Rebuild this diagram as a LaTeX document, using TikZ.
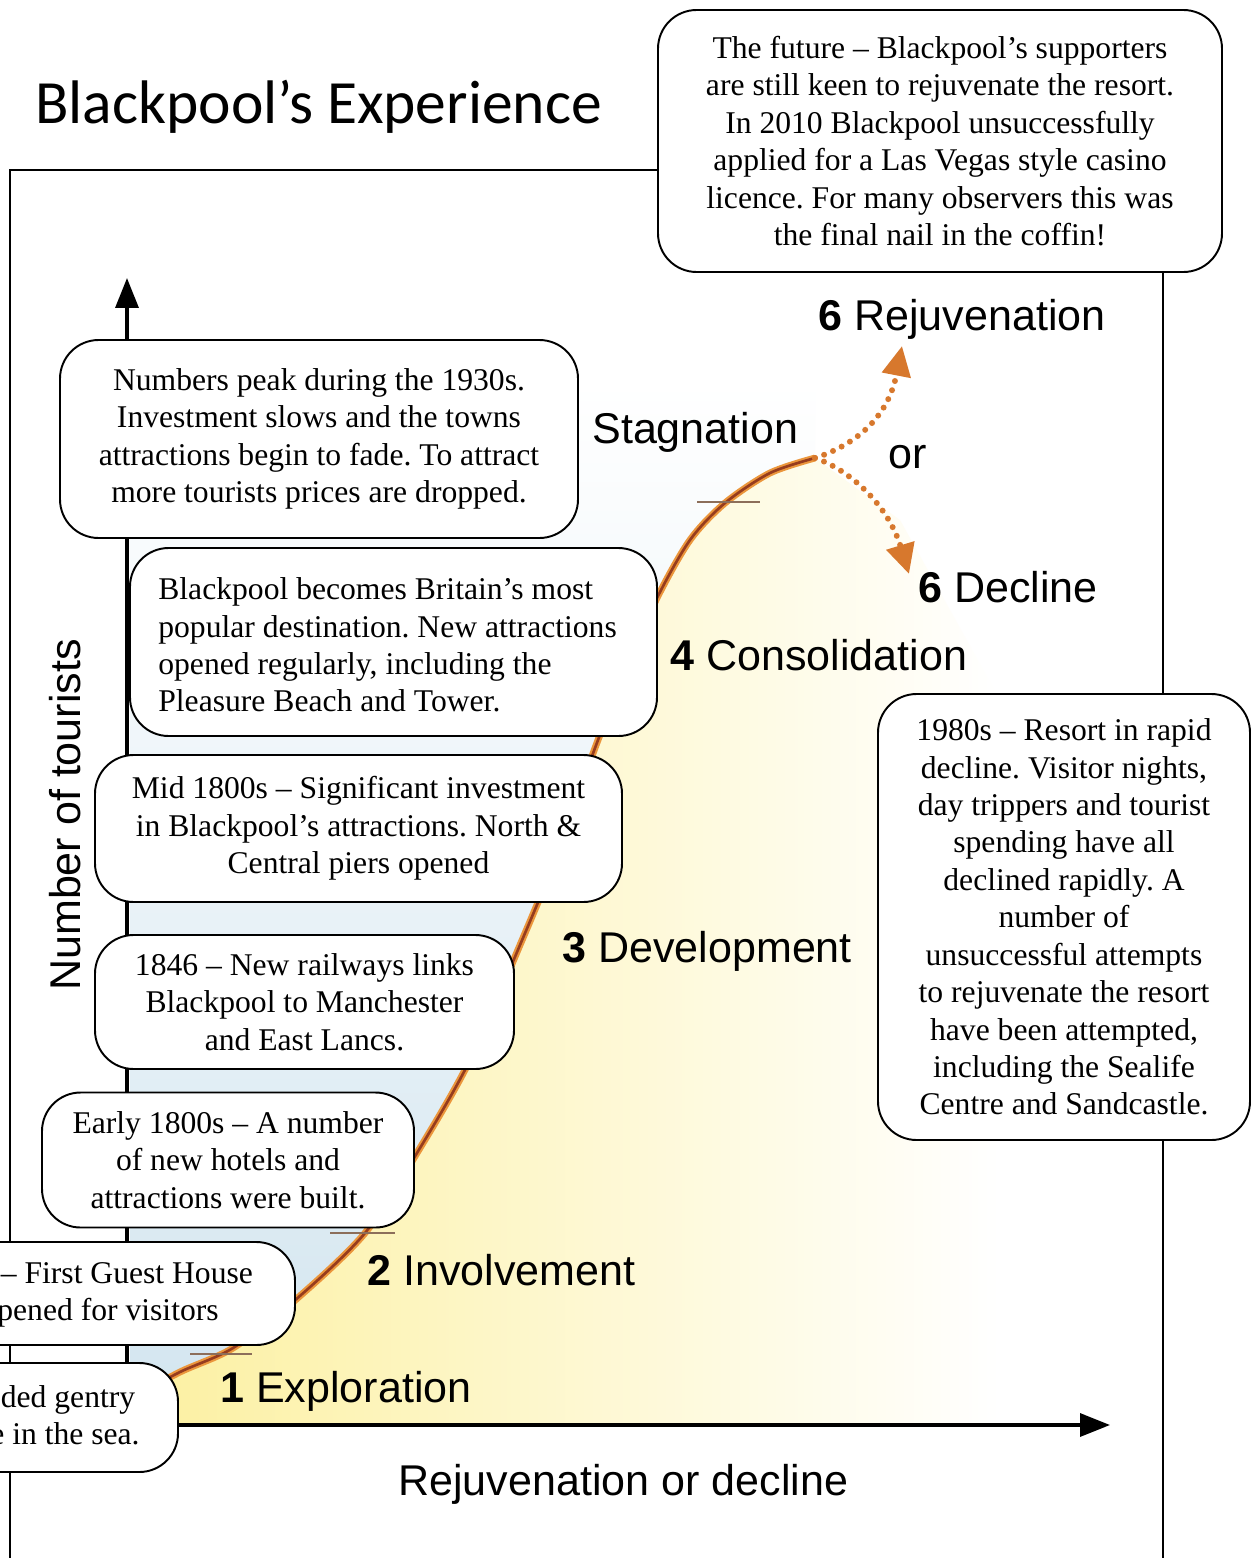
\documentclass[tikz,border=0pt]{standalone}
\usepackage{fontspec}
\setmainfont{Liberation Serif}
\newfontfamily\titlefont{Carlito}
\newfontfamily\stagefont{Liberation Sans}
\usetikzlibrary{arrows.meta, positioning}
\definecolor{sandyellow}{RGB}{252, 240, 160}
\definecolor{seablue}{RGB}{212, 230, 240}
\definecolor{curvebrown}{RGB}{150, 60, 30}
\definecolor{curveglow}{RGB}{235, 150, 60}
\definecolor{tickgrey}{RGB}{140, 110, 90}
\definecolor{dotorange}{RGB}{215, 120, 45}
\frenchspacing

\begin{document}
\begin{tikzpicture}[x=0.02cm, y=-0.02cm,
  notebox/.style={draw, line width=1.1pt, rounded corners=22pt, fill=white,
                  inner sep=0pt, align=center, font=\fontsize{18}{21.3}\selectfont},
  boxsize/.style 2 args={minimum width=#1*0.02cm, minimum height=#2*0.02cm},
  notetext/.style={inner sep=0pt, align=left, anchor=west, font=\fontsize{18}{21.3}\selectfont},
  stage/.style={font=\stagefont\fontsize{24.5}{28}\selectfont, inner sep=0pt, anchor=base west},
  axis/.style={line width=2pt, -{Triangle[length=17pt, width=13pt]}},
  stagetick/.style={tickgrey, line width=0.9pt},
  tourcurve/.style={draw=curveglow, double=curvebrown, double distance=1.5pt, line width=1.2pt},
  branch/.style={dotorange, line width=3.4pt, line cap=round, dash pattern=on 0pt off 5.5pt,
                 -{Triangle[length=17pt, width=16pt, fill=dotorange, line cap=butt]}},
]
\useasboundingbox (0,0) rectangle (1255,1558);
\clip (0,0) rectangle (1255,1558);
\fill[white] (0,0) rectangle (1255,1558);

% Sand and sea
\shade[left color=sandyellow, right color=white]
  (130,1425) -- (132,1398) -- plot[smooth] coordinates {(132,1398) (180,1372) (233,1348)
  (293,1302) (365,1233) (420,1148) (470,1060) (520,945) (560,848) (595,748) (628,665)
  (657,598) (690,540) (725,503) (770,473) (815,458)} -- (900,520) -- (1000,700)
  -- (1000,1425) -- cycle;
\shade[top color=white, middle color=seablue, bottom color=seablue]
  (130,1398) -- plot[smooth] coordinates {(132,1398) (180,1372) (233,1348) (293,1302)
  (365,1233) (420,1148) (470,1060) (520,945) (560,848) (595,748) (628,665) (657,598)
  (690,540) (725,503) (770,473) (815,458)} -- (815,380) -- (130,380) -- cycle;

% Frame and axes
\draw[line width=1.5pt] (10,170) rectangle (1163,1600);
\coordinate (origin) at (127,1425);
\coordinate (ytop) at (127,278);
\coordinate (xend) at (1110,1425);
\draw[axis] (origin) -- (ytop);
\draw[axis] (origin) -- (xend);

% Life cycle curve
\draw[tourcurve] plot[smooth] coordinates {(132,1398) (180,1372) (233,1348) (293,1302)
  (365,1233) (420,1148) (470,1060) (520,945) (560,848) (595,748) (628,665) (657,598)
  (690,540) (725,503) (770,473) (815,458)};
\draw[stagetick] (190,1354) -- (252,1354);
\draw[stagetick] (330,1233) -- (395,1233);
\draw[stagetick] (697,502) -- (760,502);

% Rejuvenation or decline
\coordinate (fork) at (815,458);
\coordinate (rejtip) at (902,346);
\coordinate (dectip) at (909,574);
\draw[branch] (fork) .. controls (855,445) and (888,418) .. (rejtip);
\draw[branch] (fork) .. controls (850,470) and (888,505) .. (dectip);

% Stage labels
\node[stage] (rejuv) at (818,330) {\textbf{6} Rejuvenation};
\node[stage] (stagn) at (592,443) {Stagnation};
\node[stage] (orlabel) at (888,468) {or};
\node[stage] (decline) at (918,602) {\textbf{6} Decline};
\node[stage] (consol) at (670,670) {\textbf{4} Consolidation};
\node[stage] (devel) at (562,962) {\textbf{3} Development};
\node[stage] (involv) at (367,1285) {\textbf{2} Involvement};
\node[stage] (explor) at (220,1402) {\textbf{1} Exploration};
\node[stage] (xlabel) at (398,1495) {Rejuvenation or decline};
\node[stage, anchor=center, rotate=90] (ylabel) at (65,815) {Number of tourists};

% Notes
\node[notebox, boxsize={564}{262}] (future) at (940,141)
  {The future – Blackpool’s supporters\\are still keen to rejuvenate the resort.\\
   In 2010 Blackpool unsuccessfully\\applied for a Las Vegas style casino\\
   licence. For many observers this was\\the final nail in the coffin!};
\node[notebox, boxsize={518}{198}] (peak) at (319,439)
  {Numbers peak during the 1930s.\\Investment slows and the towns\\
   attractions begin to fade. To attract\\more tourists prices are dropped.};
\node[notebox, boxsize={527}{188}] (popular) at (393.5,642) {};
\node[notetext] (populartext) at (158,645)
  {Blackpool becomes Britain’s most\\popular destination. New attractions\\
   opened regularly, including the\\Pleasure Beach and Tower.};
\node[notebox, boxsize={527}{147}] (piers) at (358.5,828.5)
  {Mid 1800s – Significant investment\\in Blackpool’s attractions. North \&\\Central piers opened};
\node[notebox, boxsize={419}{134}] (railway) at (304.5,1002)
  {1846 – New railways links\\Blackpool to Manchester\\and East Lancs.};
\node[notebox, boxsize={372}{135}] (hotels) at (228,1160)
  {Early 1800s – A number\\of new hotels and\\attractions were built.};
\node[notebox, boxsize={355}{103}] (guest) at (117.5,1293.5) {};
\node[notetext] (guesttext) at (-3,1295) {\hspace*{2pt}– First Guest House\\pened for visitors};
\node[notebox, boxsize={238}{109}] (gentry) at (59,1417.5) {};
\node[notetext] (gentrytext) at (-10,1415) {\hspace*{6pt}ded gentry\\e in the sea.};
\node[notebox, boxsize={372}{446}] (eighties) at (1064,917)
  {1980s – Resort in rapid\\decline. Visitor nights,\\day trippers and tourist\\
   spending have all\\declined rapidly. A\\number of\\unsuccessful attempts\\
   to rejuvenate the resort\\have been attempted,\\including the Sealife\\
   Centre and Sandcastle.};

% Title
\node[font=\titlefont\fontsize{35}{40}\selectfont, anchor=base west, inner sep=0pt]
  (title) at (35,124) {Blackpool’s Experience};
\end{tikzpicture}
\end{document}
